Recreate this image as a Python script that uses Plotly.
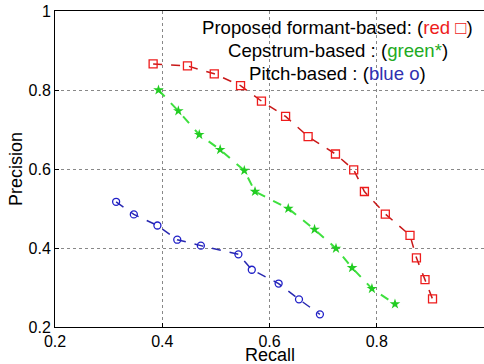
import plotly.graph_objects as go

# Data
red_recall = [0.383, 0.447, 0.497, 0.546, 0.585, 0.630, 0.672, 0.723, 0.757, 0.777, 0.816, 0.862, 0.874, 0.890, 0.904]
red_precision = [0.866, 0.861, 0.841, 0.811, 0.772, 0.733, 0.682, 0.638, 0.598, 0.543, 0.486, 0.432, 0.375, 0.320, 0.271]

green_recall = [0.393, 0.430, 0.469, 0.508, 0.553, 0.573, 0.635, 0.684, 0.724, 0.754, 0.791, 0.834]
green_precision = [0.800, 0.747, 0.687, 0.649, 0.596, 0.543, 0.500, 0.447, 0.399, 0.350, 0.297, 0.258]

blue_recall = [0.314, 0.347, 0.391, 0.428, 0.472, 0.542, 0.567, 0.617, 0.655, 0.694]
blue_precision = [0.517, 0.485, 0.457, 0.421, 0.406, 0.384, 0.345, 0.310, 0.270, 0.232]

x_ticks = [0.2, 0.4, 0.6, 0.8, 1.0]
x_tick_labels = ["0.2", "0.4", "0.6", "0.8", "1"]
y_ticks = [0.2, 0.4, 0.6, 0.8, 1.0]
y_tick_labels = ["0.2", "0.4", "0.6", "0.8", "1"]

FONT = "Liberation Sans, Arial, sans-serif"

fig = go.Figure()
fig.add_trace(go.Scatter(
    x=red_recall, y=red_precision, mode="lines+markers",
    line=dict(color="#c81818", width=1.5, dash="dash"),
    marker=dict(symbol="square-open", size=8, color="#ee1c1c", line=dict(width=1.3)),
    name="Proposed formant-based"))
fig.add_trace(go.Scatter(
    x=green_recall, y=green_precision, mode="lines+markers",
    line=dict(color="#3ee03e", width=2, dash="dash"),
    marker=dict(symbol="star", size=8, color="#22cc22"),
    name="Cepstrum-based"))
fig.add_trace(go.Scatter(
    x=blue_recall, y=blue_precision, mode="lines+markers",
    line=dict(color="#2828b0", width=1.5, dash="dash"),
    marker=dict(symbol="circle-open", size=7, color="#2020c8", line=dict(width=1.3)),
    name="Pitch-based"))

ann_font = dict(family=FONT, size=18.6, color="black")
fig.add_annotation(x=0.727, y=0.957, xref="x", yref="y", showarrow=False, font=ann_font,
                   text='Proposed formant-based: (<span style="color:#ee1c1c">red □</span>)')
fig.add_annotation(x=0.727, y=0.899, xref="x", yref="y", showarrow=False, font=ann_font,
                   text='Cepstrum-based : (<span style="color:#22aa22">green</span><span style="color:#22aa22">*</span>)')
fig.add_annotation(x=0.727, y=0.843, xref="x", yref="y", showarrow=False, font=ann_font,
                   text='Pitch-based : (<span style="color:#3030b0">blue o</span>)')

# Axis titles placed as annotations for exact positioning
title_font = dict(family=FONT, size=18, color="black")
fig.add_annotation(x=0.5, y=0, xref="paper", yref="paper", yshift=-17, yanchor="top",
                   borderpad=0, showarrow=False, font=title_font, text="Recall")
fig.add_annotation(x=0, y=0.5, xref="paper", yref="paper", xshift=-39, xanchor="center",
                   showarrow=False, font=title_font, text="Precision", textangle=-90)

axis_common = dict(
    showgrid=True, gridcolor="#888888", griddash="dot", gridwidth=1,
    showline=True, linecolor="black", linewidth=1, mirror=True,
    ticks="inside", ticklen=4, tickcolor="black",
    tickfont=dict(family=FONT, size=16, color="black"),
    zeroline=False, automargin=False,
)

fig.update_layout(
    width=484, height=364,
    margin=dict(l=55, r=0, t=11, b=37),
    paper_bgcolor="white", plot_bgcolor="white",
    showlegend=False,
    xaxis=dict(range=[0.2, 1.0], tickvals=x_ticks, ticktext=x_tick_labels, **axis_common),
    yaxis=dict(range=[0.2, 1.0], tickvals=y_ticks, ticktext=y_tick_labels, **axis_common),
)

fig.write_html("out.html", config={"displayModeBar": False},
               post_script="document.body.style.margin='0';document.body.style.overflow='hidden';")
